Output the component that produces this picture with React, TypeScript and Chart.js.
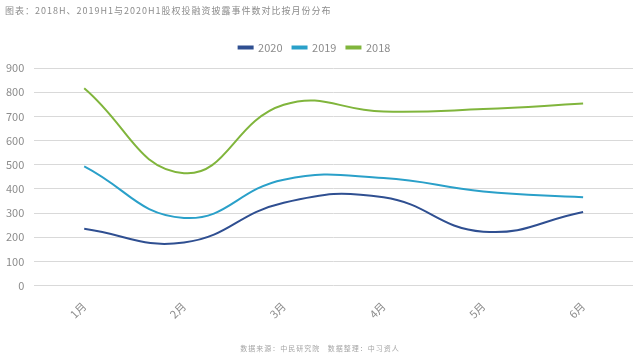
import React, { useEffect, useRef } from "react";
import { Chart, registerables } from "chart.js";

Chart.register(...registerables);

const months = ["1月", "2月", "3月", "4月", "5月", "6月"];
const series2020 = [235, 178, 343, 365, 223, 304];
const series2019 = [493, 280, 438, 445, 389, 365];
const series2018 = [816, 465, 748, 720, 730, 753];
const yTicks = [0, 100, 200, 300, 400, 500, 600, 700, 800, 900];

const titleText = "图表：2018H、2019H1与2020H1股权投融资披露事件数对比按月份分布";
const footerText = "数据来源：中民研究院   数据整理：中习资人";

const FONT = "'Noto Sans CJK SC', 'Noto Sans', sans-serif";

const legendGap = {
  id: "legendGap",
  beforeInit(chart: any) {
    const legend = chart.legend;
    if (!legend) return;
    const orig = legend.fit;
    legend.fit = function () {
      orig.call(this);
      this.height += 5;
    };
  },
};

export default function App() {
  const ref = useRef<HTMLCanvasElement | null>(null);

  useEffect(() => {
    const canvas = ref.current;
    if (!canvas) return;
    const mk = (label: string, data: number[], color: string) => ({
      label,
      data,
      borderColor: color,
      backgroundColor: color,
      borderWidth: 2,
      pointRadius: 0,
      tension: 0.45,
      fill: false,
    });
    const chart = new Chart(canvas, {
      type: "line",
      data: {
        labels: months,
        datasets: [
          mk("2020", series2020, "#2f4f91"),
          mk("2019", series2019, "#2aa0c9"),
          mk("2018", series2018, "#80b53c"),
        ],
      },
      plugins: [legendGap],
      options: {
        animation: false,
        responsive: false,
        maintainAspectRatio: false,
        layout: { padding: { left: -4, right: 7, top: 32, bottom: 33 } },
        plugins: {
          legend: {
            position: "top",
            labels: {
              boxWidth: 14,
              boxHeight: 2,
              color: "#8c8c8c",
              padding: 10,
              font: { family: FONT, size: 11 },
            },
          },
          tooltip: { enabled: false },
        },
        scales: {
          x: {
            offset: true,
            grid: { display: false },
            border: { display: false },
            ticks: {
              color: "#8c8c8c",
              minRotation: 45,
              maxRotation: 45,
              padding: 6,
              font: { family: FONT, size: 11 },
            },
          },
          y: {
            min: 0,
            max: 900,
            afterBuildTicks: (axis: any) => {
              axis.ticks = yTicks.map((v) => ({ value: v }));
            },
            grid: { color: "#d9d9d9", lineWidth: 1, drawTicks: false },
            border: { display: false },
            ticks: {
              color: "#8c8c8c",
              padding: 10,
              font: { family: FONT, size: 11 },
            },
          },
        },
      },
    });
    return () => chart.destroy();
  }, []);

  return (
    <div style={{ position: "fixed", left: 0, top: 0, width: 640, height: 360, background: "#fff" }}>
      <canvas ref={ref} width={640} height={360} style={{ position: "absolute", left: 0, top: 0 }} />
      <div
        style={{
          position: "absolute",
          left: 5,
          top: 4,
          fontFamily: FONT,
          fontSize: 9,
          letterSpacing: 1,
          color: "#8c8c8c",
          whiteSpace: "nowrap",
        }}
      >
        {titleText}
      </div>
      <div
        style={{
          position: "absolute",
          left: 0,
          width: 640,
          top: 343,
          textAlign: "center",
          fontFamily: FONT,
          fontSize: 7,
          letterSpacing: 1,
          color: "#a6a6a6",
          whiteSpace: "pre",
        }}
      >
        {footerText}
      </div>
    </div>
  );
}
